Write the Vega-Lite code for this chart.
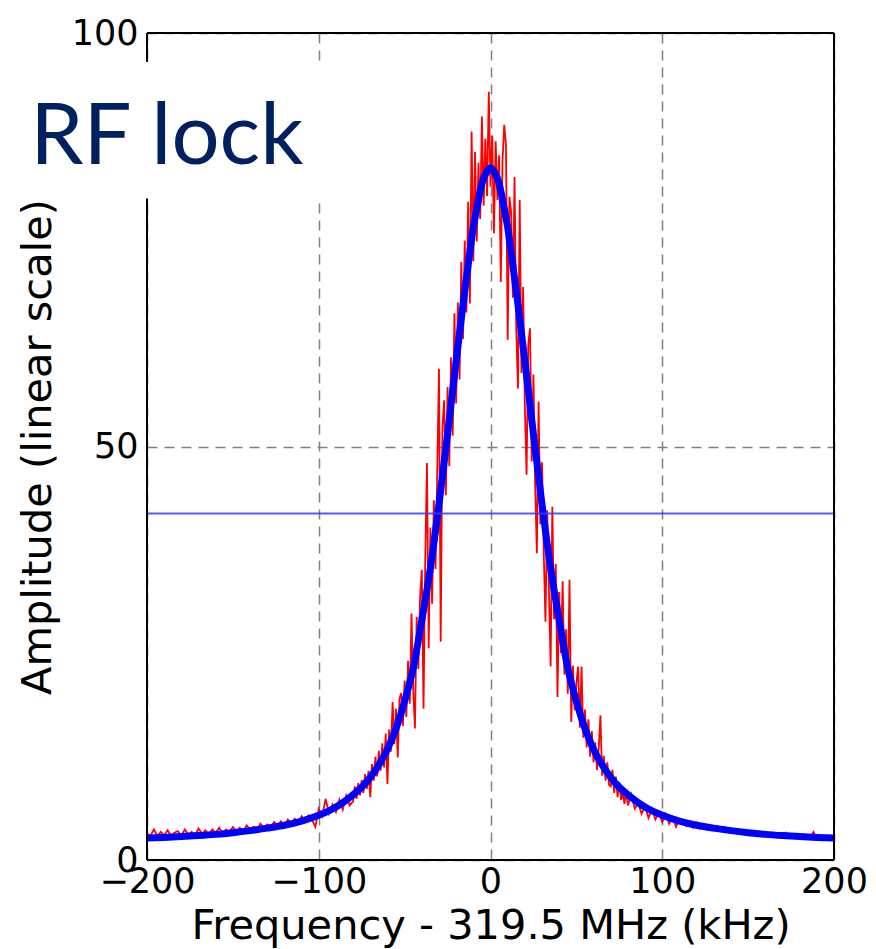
{
  "$schema": "https://vega.github.io/schema/vega-lite/v6.json",
  "width": 687,
  "height": 827,
  "autosize": {"type": "none"},
  "padding": {"left": 147, "top": 33, "right": 42, "bottom": 89},
  "background": "white",
  "data": {"values": [{}]},
  "datasets": {
    "raw": [
      {"f":-200,"a":3.2},{"f":-198,"a":2.9},{"f":-196,"a":3.7},{"f":-194,"a":2.9},{"f":-192,"a":3.4},{"f":-190,"a":3.0},{"f":-188,"a":3.6},{"f":-186,"a":2.9},{"f":-184,"a":3.3},{"f":-182,"a":3.5},
      {"f":-180,"a":2.9},{"f":-178,"a":3.7},{"f":-176,"a":3.1},{"f":-174,"a":3.4},{"f":-172,"a":3.0},{"f":-170,"a":3.8},{"f":-168,"a":3.2},{"f":-166,"a":3.6},{"f":-164,"a":3.1},{"f":-162,"a":3.7},
      {"f":-160,"a":3.3},{"f":-158,"a":3.9},{"f":-156,"a":3.2},{"f":-154,"a":3.7},{"f":-152,"a":3.4},{"f":-150,"a":4.0},{"f":-148,"a":3.5},{"f":-146,"a":3.9},{"f":-144,"a":3.4},{"f":-142,"a":4.2},
      {"f":-140,"a":3.7},{"f":-138,"a":4.0},{"f":-136,"a":3.6},{"f":-134,"a":4.4},{"f":-132,"a":3.9},{"f":-130,"a":4.3},{"f":-128,"a":4.0},{"f":-126,"a":4.6},{"f":-124,"a":4.1},{"f":-122,"a":4.7},
      {"f":-120,"a":4.2},{"f":-118,"a":4.9},{"f":-116,"a":4.4},{"f":-114,"a":5.0},{"f":-112,"a":4.5},{"f":-110,"a":5.3},{"f":-108,"a":4.7},{"f":-106,"a":5.4},{"f":-104,"a":4.9},{"f":-102,"a":4.0},
      {"f":-100,"a":6.2},{"f":-98,"a":5.3},{"f":-96,"a":7.4},{"f":-94,"a":5.6},{"f":-92,"a":6.7},{"f":-90,"a":5.8},{"f":-88,"a":7.3},{"f":-86,"a":6.1},{"f":-84,"a":7.8},{"f":-82,"a":6.6},
      {"f":-80,"a":7.1},{"f":-79,"a":8.9},{"f":-78,"a":7.4},{"f":-77,"a":9.3},{"f":-76,"a":7.8},{"f":-75,"a":9.7},{"f":-74,"a":8.1},{"f":-73,"a":10.4},{"f":-72,"a":8.6},{"f":-71,"a":10.8},
      {"f":-70,"a":7.6},{"f":-69,"a":11.6},{"f":-68,"a":9.6},{"f":-67,"a":12.5},{"f":-66,"a":10.1},{"f":-65,"a":13.2},{"f":-64,"a":10.8},{"f":-63,"a":14.1},{"f":-62,"a":11.2},{"f":-61,"a":15.3},
      {"f":-60,"a":9.2},{"f":-59,"a":15.8},{"f":-58,"a":13.1},{"f":-57,"a":19.1},{"f":-56,"a":14.0},{"f":-55,"a":18.3},{"f":-54,"a":12.4},{"f":-53,"a":19.5},{"f":-52,"a":20.2},{"f":-51,"a":16.2},
      {"f":-50,"a":21.7},{"f":-49,"a":17.3},{"f":-48,"a":24.1},{"f":-47,"a":18.9},{"f":-46,"a":29.8},{"f":-45,"a":20.6},{"f":-44,"a":15.9},{"f":-43,"a":29.4},{"f":-42,"a":23.1},{"f":-41,"a":31.8},
      {"f":-40,"a":35.1},{"f":-39,"a":18.3},{"f":-38,"a":36.2},{"f":-37,"a":48.0},{"f":-36,"a":25.6},{"f":-35,"a":40.2},{"f":-34,"a":31.0},{"f":-33,"a":43.5},{"f":-32,"a":35.2},{"f":-31,"a":47.3},
      {"f":-30,"a":59.4},{"f":-29,"a":26.4},{"f":-28,"a":52.3},{"f":-27,"a":55.6},{"f":-26,"a":44.1},{"f":-25,"a":57.2},{"f":-24,"a":47.6},{"f":-23,"a":60.8},{"f":-22,"a":51.3},{"f":-21,"a":66.1},
      {"f":-20,"a":55.2},{"f":-19,"a":67.4},{"f":-18,"a":58.1},{"f":-17,"a":72.3},{"f":-16,"a":63.0},{"f":-15,"a":74.9},{"f":-14,"a":66.2},{"f":-13,"a":79.6},{"f":-12,"a":67.3},{"f":-11,"a":88.1},
      {"f":-10,"a":72.4},{"f":-9,"a":85.6},{"f":-8,"a":74.8},{"f":-7,"a":84.3},{"f":-6,"a":77.5},{"f":-5,"a":89.9},{"f":-4,"a":79.1},{"f":-3,"a":87.2},{"f":-2,"a":80.3},{"f":-1,"a":92.9},
      {"f":0,"a":81.4},{"f":1,"a":87.6},{"f":2,"a":75.8},{"f":3,"a":86.9},{"f":4,"a":79.8},{"f":5,"a":85.2},{"f":6,"a":69.9},{"f":7,"a":84.6},{"f":8,"a":88.9},{"f":9,"a":86.5},
      {"f":10,"a":62.9},{"f":11,"a":80.2},{"f":12,"a":78.4},{"f":13,"a":68.0},{"f":14,"a":82.6},{"f":15,"a":64.1},{"f":16,"a":57.0},{"f":17,"a":79.8},{"f":18,"a":58.9},{"f":19,"a":69.3},
      {"f":20,"a":54.8},{"f":21,"a":46.6},{"f":22,"a":62.4},{"f":23,"a":64.3},{"f":24,"a":48.2},{"f":25,"a":58.7},{"f":26,"a":45.3},{"f":27,"a":37.1},{"f":28,"a":55.4},{"f":29,"a":40.6},
      {"f":30,"a":48.1},{"f":31,"a":37.2},{"f":32,"a":28.8},{"f":33,"a":42.3},{"f":34,"a":33.0},{"f":35,"a":23.4},{"f":36,"a":42.7},{"f":37,"a":29.1},{"f":38,"a":35.8},{"f":39,"a":19.7},
      {"f":40,"a":32.4},{"f":41,"a":25.0},{"f":42,"a":33.7},{"f":43,"a":22.4},{"f":44,"a":27.9},{"f":45,"a":20.1},{"f":46,"a":33.9},{"f":47,"a":16.7},{"f":48,"a":23.5},{"f":49,"a":18.1},
      {"f":50,"a":21.4},{"f":51,"a":23.4},{"f":52,"a":16.0},{"f":53,"a":23.4},{"f":54,"a":14.8},{"f":55,"a":18.2},{"f":56,"a":13.6},{"f":57,"a":17.0},{"f":58,"a":12.5},{"f":59,"a":15.6},
      {"f":60,"a":11.8},{"f":61,"a":14.2},{"f":62,"a":10.9},{"f":63,"a":13.5},{"f":64,"a":17.5},{"f":65,"a":10.2},{"f":66,"a":12.6},{"f":67,"a":9.6},{"f":68,"a":11.8},{"f":69,"a":9.1},
      {"f":70,"a":8.9},{"f":71,"a":10.9},{"f":72,"a":8.1},{"f":73,"a":10.1},{"f":74,"a":7.6},{"f":75,"a":9.4},{"f":76,"a":7.3},{"f":77,"a":8.0},{"f":78,"a":6.8},{"f":79,"a":8.4},
      {"f":80,"a":6.6},{"f":82,"a":7.9},{"f":84,"a":6.2},{"f":86,"a":6.9},{"f":88,"a":5.6},{"f":90,"a":6.5},{"f":92,"a":5.1},{"f":94,"a":6.2},{"f":96,"a":4.9},{"f":98,"a":5.7},
      {"f":100,"a":4.6},{"f":102,"a":5.6},{"f":104,"a":4.4},{"f":106,"a":5.2},{"f":108,"a":4.0},{"f":110,"a":4.9},{"f":112,"a":4.8},{"f":114,"a":4.1},{"f":116,"a":4.7},{"f":118,"a":3.9},
      {"f":120,"a":4.5},{"f":122,"a":3.8},{"f":124,"a":4.3},{"f":126,"a":3.7},{"f":128,"a":4.2},{"f":130,"a":3.6},{"f":132,"a":4.1},{"f":134,"a":3.5},{"f":136,"a":4.0},{"f":138,"a":3.5},
      {"f":140,"a":3.8},{"f":142,"a":3.3},{"f":144,"a":3.7},{"f":146,"a":3.2},{"f":148,"a":3.6},{"f":150,"a":3.1},{"f":152,"a":3.5},{"f":154,"a":3.0},{"f":156,"a":3.4},{"f":158,"a":2.9},
      {"f":160,"a":3.4},{"f":162,"a":2.9},{"f":164,"a":3.3},{"f":166,"a":2.8},{"f":168,"a":3.2},{"f":170,"a":2.8},{"f":172,"a":3.3},{"f":174,"a":2.7},{"f":176,"a":3.1},{"f":178,"a":2.7},
      {"f":180,"a":3.1},{"f":182,"a":2.6},{"f":184,"a":3.0},{"f":186,"a":2.6},{"f":188,"a":3.4},{"f":190,"a":2.6},{"f":192,"a":2.9},{"f":194,"a":2.5},{"f":196,"a":2.9},{"f":198,"a":2.6},
      {"f":200,"a":2.8}
    ],
    "fit": [
      {"f":-200,"a":2.65},{"f":-190,"a":2.73},{"f":-180,"a":2.83},{"f":-170,"a":2.95},{"f":-160,"a":3.1},{"f":-150,"a":3.3},{"f":-140,"a":3.55},{"f":-130,"a":3.85},{"f":-120,"a":4.2},{"f":-110,"a":4.7},
      {"f":-100,"a":5.4},{"f":-90,"a":6.4},{"f":-80,"a":7.9},{"f":-75,"a":8.8},{"f":-70,"a":10.0},{"f":-65,"a":11.5},{"f":-60,"a":13.4},{"f":-55,"a":15.9},{"f":-50,"a":19.2},{"f":-45,"a":23.2},
      {"f":-40,"a":29.0},{"f":-35,"a":35.3},{"f":-30,"a":43.0},{"f":-25,"a":51.5},{"f":-22.5,"a":55.9},{"f":-20,"a":60.3},{"f":-17.5,"a":64.6},{"f":-15,"a":68.8},{"f":-12.5,"a":72.7},{"f":-10,"a":76.5},
      {"f":-7.5,"a":79.3},{"f":-5,"a":81.8},{"f":-2.5,"a":83.1},{"f":0,"a":83.7},{"f":2.5,"a":83.1},{"f":5,"a":81.8},{"f":7.5,"a":79.3},{"f":10,"a":76.5},{"f":12.5,"a":72.7},{"f":15,"a":68.8},
      {"f":17.5,"a":64.6},{"f":20,"a":60.3},{"f":22.5,"a":55.9},{"f":25,"a":51.5},{"f":30,"a":43.0},{"f":35,"a":35.3},{"f":40,"a":29.0},{"f":45,"a":23.2},{"f":50,"a":19.2},{"f":55,"a":15.9},
      {"f":60,"a":13.4},{"f":65,"a":11.5},{"f":70,"a":10.0},{"f":75,"a":8.8},{"f":80,"a":7.9},{"f":90,"a":6.4},{"f":100,"a":5.4},{"f":110,"a":4.7},{"f":120,"a":4.2},{"f":130,"a":3.85},
      {"f":140,"a":3.55},{"f":150,"a":3.3},{"f":160,"a":3.1},{"f":170,"a":2.95},{"f":180,"a":2.83},{"f":190,"a":2.73},{"f":200,"a":2.65}
    ]
  },
  "layer": [
    {
      "data": {"name": "raw"},
      "mark": {"type": "line", "color": "#ff0000", "strokeWidth": 1.8},
      "encoding": {
        "x": {"field": "f", "type": "quantitative", "title": "Frequency - 319.5 MHz (kHz)",
              "scale": {"domain": [-200, 200], "nice": false, "zero": false},
              "axis": {"values": [-200, -100, 0, 100, 200], "format": "d", "labelPadding": 4, "titlePadding": 6}},
        "y": {"field": "a", "type": "quantitative", "title": "Amplitude (linear scale)",
              "scale": {"domain": [0, 100], "nice": false},
              "axis": {"values": [0, 50, 100], "format": "d", "labelPadding": 9, "titlePadding": 12}}
      }
    },
    {
      "data": {"name": "fit"},
      "mark": {"type": "line", "color": "#0000ff", "strokeWidth": 7, "interpolate": "monotone"},
      "encoding": {
        "x": {"field": "f", "type": "quantitative", "title": "Frequency - 319.5 MHz (kHz)"},
        "y": {"field": "a", "type": "quantitative", "title": "Amplitude (linear scale)"}
      }
    },
    {
      "mark": {"type": "rule", "color": "#3b3bff", "strokeWidth": 2, "opacity": 0.85},
      "encoding": {"y": {"datum": 41.9, "type": "quantitative"}}
    },
    {
      "mark": {"type": "rule", "color": "black", "strokeWidth": 2},
      "encoding": {"x": {"datum": -200, "type": "quantitative"}}
    },
    {
      "mark": {"type": "rule", "color": "black", "strokeWidth": 2},
      "encoding": {"x": {"datum": 200, "type": "quantitative"}}
    },
    {
      "mark": {"type": "rule", "color": "black", "strokeWidth": 2},
      "encoding": {"y": {"datum": 0, "type": "quantitative"}}
    },
    {
      "mark": {"type": "rule", "color": "black", "strokeWidth": 2},
      "encoding": {"y": {"datum": 100, "type": "quantitative"}}
    },
    {
      "mark": {"type": "rect", "color": "white", "opacity": 1},
      "encoding": {
        "x": {"datum": -300, "type": "quantitative"},
        "x2": {"datum": -90},
        "y": {"datum": 80, "type": "quantitative"},
        "y2": {"datum": 96.5}
      }
    },
    {
      "mark": {"type": "text", "text": "RF lock", "font": "Lato", "fontSize": 85, "color": "#002060", "align": "left", "baseline": "alphabetic"},
      "encoding": {
        "x": {"datum": -268, "type": "quantitative"},
        "y": {"datum": 84.2, "type": "quantitative"}
      }
    }
  ],
  "config": {
    "view": {"stroke": null},
    "axis": {
      "labelFont": "DejaVu Sans", "titleFont": "DejaVu Sans",
      "labelFontSize": 35, "titleFontSize": 41.5,
      "labelColor": "black", "titleColor": "black", "titleFontWeight": "normal",
      "ticks": false, "domain": false,
      "grid": true, "gridColor": "#808080", "gridDash": [10, 7], "gridWidth": 1.5,
      "labelFlush": false, "labelOverlap": false
    }
  }
}
